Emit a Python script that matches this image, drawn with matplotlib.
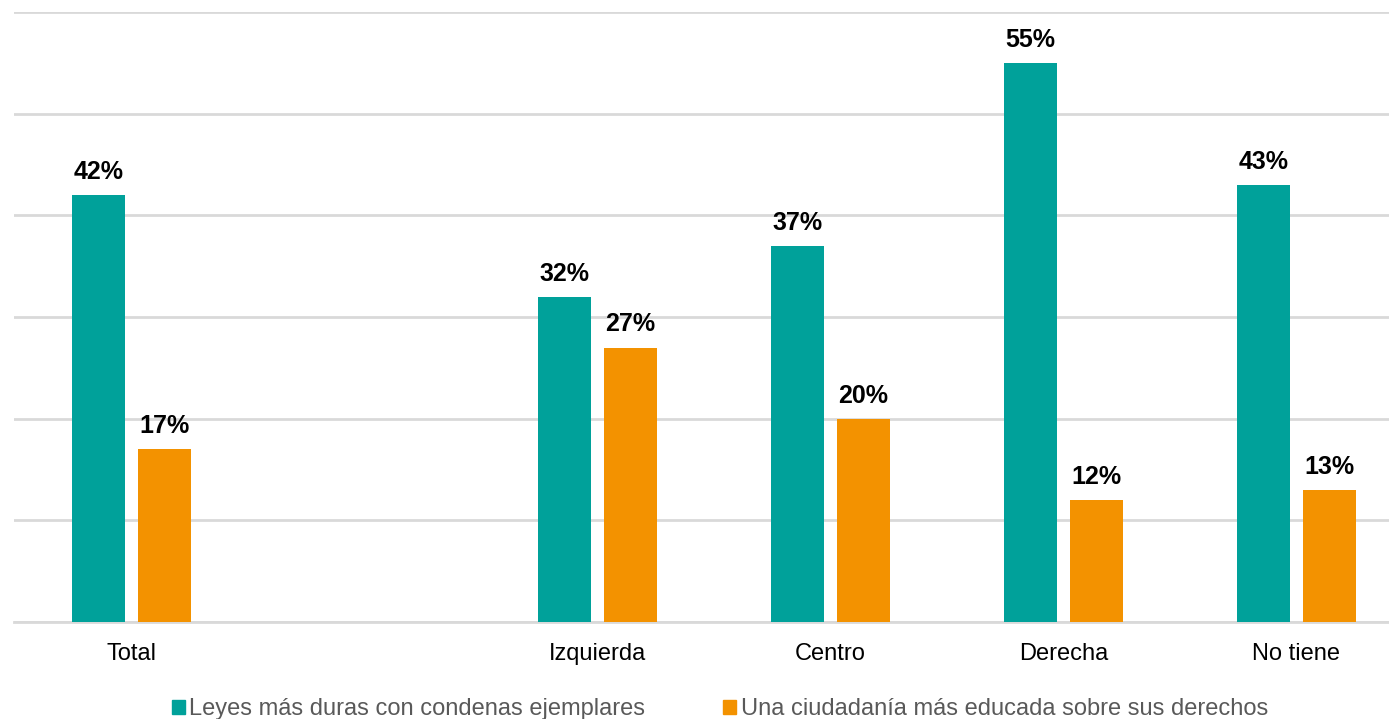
import numpy as np
import matplotlib.pyplot as plt
from matplotlib.patches import Patch

plt.rcParams['font.family'] = ['Liberation Sans', 'DejaVu Sans']

categories = ["Total", "Izquierda", "Centro", "Derecha", "No tiene"]
positions = [0, 2, 3, 4, 5]  # empty slot between Total and Izquierda
leyes = [42, 32, 37, 55, 43]
educada = [17, 27, 20, 12, 13]
series_names = ["Leyes más duras con condenas ejemplares",
                "Una ciudadanía más educada sobre sus derechos"]

teal = "#00A19A"
orange = "#F39200"

fig = plt.figure(figsize=(13.89, 7.19), dpi=100)
ax = fig.add_axes([14 / 1389, 97 / 719, 1375 / 1389, 610 / 719])

x = np.array(positions, dtype=float)
w = 0.228
off = 0.1416
b1 = ax.bar(x - off, leyes, w, color=teal, zorder=3)
b2 = ax.bar(x + off, educada, w, color=orange, zorder=3)

for bars, vals in ((b1, leyes), (b2, educada)):
    for bar, v in zip(bars, vals):
        ax.annotate(f"{v}%", (bar.get_x() + bar.get_width() / 2, v),
                    xytext=(0, 8), textcoords="offset points",
                    ha="center", va="bottom", fontsize=18, fontweight="bold",
                    color="black")

ax.set_xlim(-0.504, 5.397)
ax.set_ylim(0, 60)
ax.set_yticks(np.arange(0, 61, 10))
ax.yaxis.grid(True, color="#d9d9d9", linewidth=2, zorder=0)
ax.tick_params(axis="y", left=False, labelleft=False)
ax.set_xticks(positions)
ax.set_xticklabels(categories, fontsize=17)
ax.tick_params(axis="x", length=0, pad=15)
for s in ["top", "right", "left"]:
    ax.spines[s].set_visible(False)
ax.spines["bottom"].set_color("#d9d9d9")
ax.spines["bottom"].set_linewidth(2)

handles = [Patch(color=teal), Patch(color=orange)]
leg = fig.legend(handles, series_names, loc="center", bbox_to_anchor=(720 / 1389, 10 / 719),
                 ncol=2, frameon=False, fontsize=17, handlelength=0.55, handleheight=0.55,
                 handletextpad=0.2, columnspacing=3.3)
for t in leg.get_texts():
    t.set_color("#595959")

fig.savefig("out.png", dpi=100)
